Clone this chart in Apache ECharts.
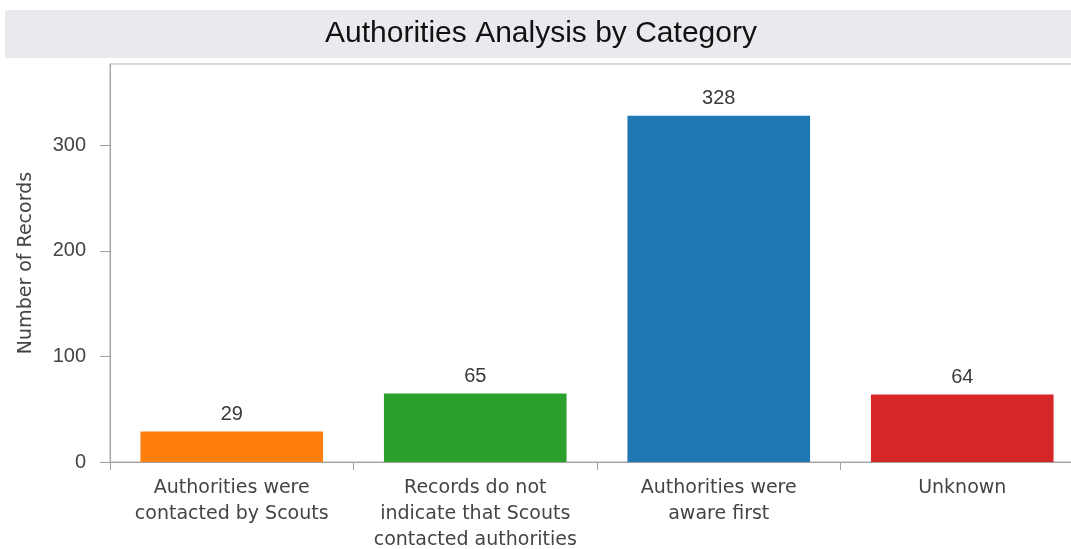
<!DOCTYPE html>
<html>
<head>
<meta charset="utf-8">
<script src="https://cdn.jsdelivr.net/npm/echarts@6/dist/echarts.min.js"></script>
<style>
  html, body { margin: 0; padding: 0; background: #fff; overflow: hidden; }
  #chart { width: 1090px; height: 549px; }
</style>
</head>
<body>
<div id="chart"></div>
<script>
// Authorities analysis: record counts per category
const categories = [
  'Authorities were\ncontacted by Scouts',
  'Records do not\nindicate that Scouts\ncontacted authorities',
  'Authorities were\naware first',
  'Unknown'
];
const recordCounts = [29, 65, 328, 64];
const barColors = ['#ff7f0e', '#2ca02c', '#1f77b4', '#d62728'];
const yTicks = [0, 100, 200, 300];

const chart = echarts.init(document.getElementById('chart'));
const textFont = 'Liberation Sans, Arial, sans-serif';
const wideFont = 'DejaVu Sans, sans-serif';

chart.setOption({
  animation: false,
  graphic: [
    {
      type: 'rect',
      shape: { x: 5, y: 10, width: 1090, height: 48 },
      style: { fill: '#e9eaee' },
      silent: true
    },
    {
      type: 'text',
      x: 541, y: 34,
      style: {
        text: 'Authorities Analysis by Category',
        fontFamily: textFont,
        fontSize: 30,
        fill: '#111',
        align: 'center',
        verticalAlign: 'middle'
      }
    }
  ],
  grid: {
    left: 110, top: 64, right: 6, bottom: 87,
    outerBoundsMode: 'none',
    containLabel: false,
    show: true, borderColor: '#b4b4b4', borderWidth: 1, backgroundColor: 'transparent'
  },
  xAxis: {
    type: 'category',
    data: categories,
    axisLine: { lineStyle: { color: '#a0a0a0' } },
    axisTick: { show: true, length: 8, lineStyle: { color: '#a0a0a0' } },
    axisLabel: {
      interval: 0, color: '#444', fontFamily: wideFont, fontSize: 19,
      lineHeight: 26, margin: 13
    }
  },
  yAxis: {
    type: 'value',
    min: 0, max: 377, interval: 100,
    name: 'Number of Records',
    nameLocation: 'middle',
    nameGap: 74,
    nameTextStyle: { color: '#444', fontFamily: wideFont, fontSize: 19 },
    splitLine: { show: false },
    axisLine: { show: true, lineStyle: { color: '#a0a0a0' } },
    axisTick: { show: true, length: 10, customValues: yTicks, lineStyle: { color: '#a0a0a0' } },
    axisLabel: {
      customValues: yTicks, color: '#444', fontFamily: textFont, fontSize: 20, margin: 24
    }
  },
  series: [{
    type: 'bar',
    data: recordCounts.map((v, i) => ({ value: v, itemStyle: { color: barColors[i] } })),
    barWidth: '75%',
    label: {
      show: true, position: 'top', distance: 7,
      color: '#3a3a3a', fontFamily: textFont, fontSize: 20
    }
  }]
});
</script>
</body>
</html>
